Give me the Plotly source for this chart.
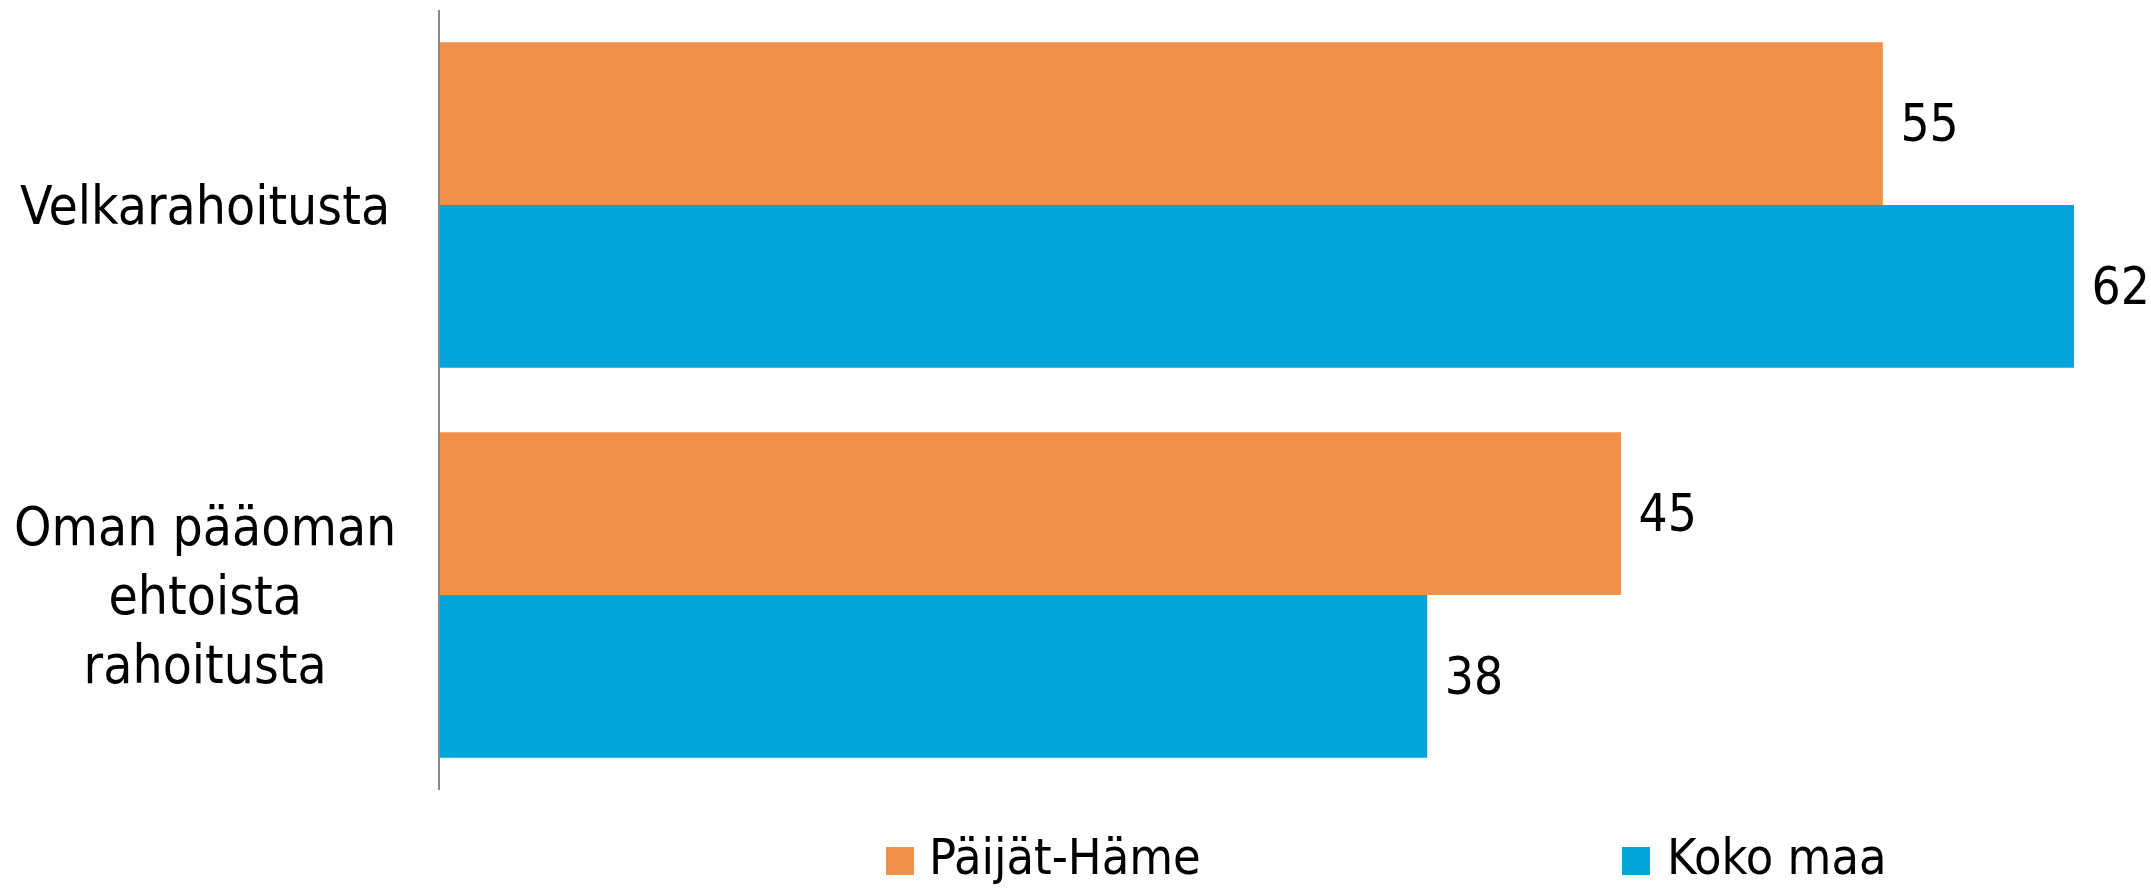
import plotly.graph_objects as go

# ---- data ----
categories = ["Velkarahoitusta", "Oman pääoman<br>ehtoista<br>rahoitusta"]
series_names = ["Päijät-Häme", "Koko maa"]
paijat_hame = [55.1, 45.1]
koko_maa = [62.4, 37.7]
colors = ["#F0914B", "#03A5DB"]

FONT = "DejaVu Sans Condensed, Lato, sans-serif"
FS = 53

fig = go.Figure()
for name, vals, col in zip(series_names, [paijat_hame, koko_maa], colors):
    fig.add_trace(go.Bar(
        y=categories, x=vals, name=name, orientation="h",
        marker=dict(color=col, line=dict(width=0)),
        text=vals, texttemplate=" %{x:.0f}", textposition="outside",
        textfont=dict(family=FONT, size=51, color="black"),
        cliponaxis=False, constraintext="none", showlegend=False,
    ))

W, H = 2151, 888
L, R, T, B = 440, 77, 10, 98
pw = W - L - R
ph = H - T - B

def px_x(px):
    return (px - L) / pw

def px_y(py):
    return (H - B - py) / ph

# category labels (centered, multi-line)
for c in categories:
    fig.add_annotation(x=px_x(205), xref="paper", y=c, yref="y",
                       text=c, showarrow=False, xanchor="center", yanchor="middle",
                       align="center", font=dict(family=FONT, size=FS, color="black"))

# custom legend
legend_pos = [(886, 927), (1622, 1665)]
for (bx, tx), name, col in zip(legend_pos, series_names, colors):
    fig.add_shape(type="rect", xref="paper", yref="paper",
                  x0=px_x(bx), x1=px_x(bx + 28), y0=px_y(875), y1=px_y(847),
                  fillcolor=col, line=dict(width=0))
    fig.add_annotation(x=px_x(tx), xref="paper", y=px_y(857), yref="paper",
                       text=name, showarrow=False, xanchor="left", yanchor="middle",
                       font=dict(family=FONT, size=50, color="black"))

fig.update_layout(
    width=W, height=H,
    margin=dict(l=L, r=R, t=T, b=B, pad=0),
    paper_bgcolor="white", plot_bgcolor="white",
    barmode="group", bargap=0.166, bargroupgap=0,
    font=dict(family=FONT, size=FS, color="black"),
    showlegend=False,
    xaxis=dict(range=[0, 62.4], showgrid=False, zeroline=False,
               showticklabels=False, showline=False, ticks=""),
    yaxis=dict(autorange="reversed", showgrid=False, zeroline=False,
               showticklabels=False, ticks="", showline=True,
               linecolor="#888888", linewidth=2),
)

fig.write_html(
    "out.html",
    config={"displayModeBar": False},
    post_script="document.body.style.margin='0';document.body.style.padding='0';"
                "document.body.style.overflow='hidden';",
)
